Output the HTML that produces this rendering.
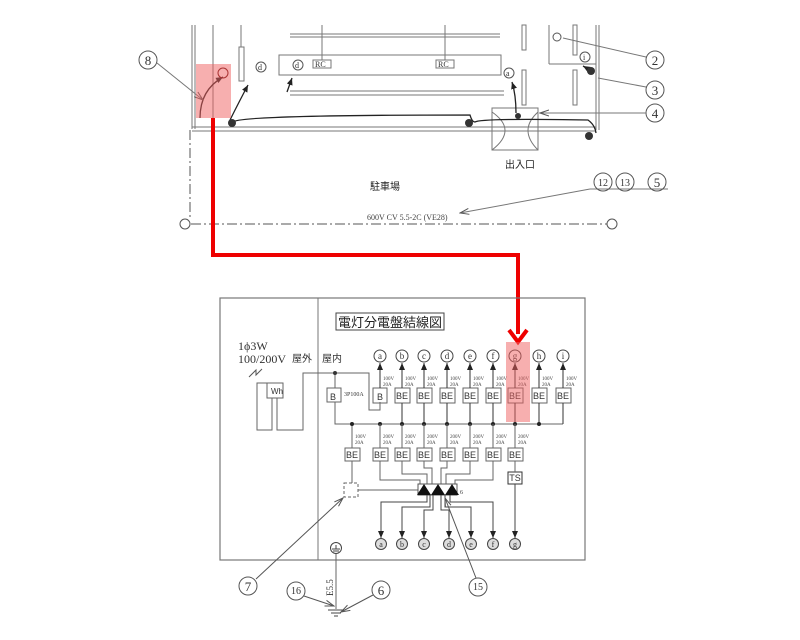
<!DOCTYPE html>
<html><head><meta charset="utf-8"><style>
html,body{margin:0;padding:0;background:#fff;}
svg{display:block;font-family:"Liberation Serif","Noto Serif CJK SC",serif;}
.s{font-family:"Liberation Sans","Noto Sans CJK JP",sans-serif;}
</style></head><body>
<svg width="800" height="640" viewBox="0 0 800 640" xmlns="http://www.w3.org/2000/svg">
<defs>
<marker id="ah" markerWidth="8" markerHeight="8" refX="7" refY="4" orient="auto" markerUnits="userSpaceOnUse"><path d="M0,1 L7,4 L0,7 Z" fill="#222"/></marker>
<marker id="ag" markerWidth="10" markerHeight="8" refX="9" refY="4" orient="auto" markerUnits="userSpaceOnUse"><path d="M0,1 L9,4 L0,7" fill="none" stroke="#555"/></marker>
</defs>
<!-- TOP PLAN -->
<g stroke="#777" fill="none" stroke-width="1">
<line x1="192" y1="25" x2="192" y2="129"/><line x1="195" y1="25" x2="195" y2="129"/>
<line x1="213" y1="25" x2="213" y2="118"/>
<rect x="239" y="47" width="5" height="34"/><line x1="241" y1="25" x2="241" y2="47"/>
<line x1="290" y1="34" x2="500" y2="34"/><line x1="290" y1="37" x2="500" y2="37"/>
<rect x="279" y="55" width="222" height="20"/>
<line x1="290" y1="91" x2="504" y2="91"/><line x1="290" y1="95" x2="504" y2="95"/>
<line x1="322" y1="25" x2="322" y2="60"/><line x1="445" y1="25" x2="445" y2="60"/>
<rect x="313" y="60" width="18" height="8"/><rect x="436" y="60" width="18" height="8"/>
<rect x="522" y="25" width="4" height="25"/><rect x="522" y="70" width="4" height="35"/>
<line x1="549" y1="25" x2="549" y2="64"/><line x1="549" y1="64" x2="596" y2="64"/>
<rect x="573" y="25" width="4" height="30"/><rect x="573" y="70" width="4" height="35"/>
<line x1="596" y1="25" x2="596" y2="130"/><line x1="599" y1="25" x2="599" y2="130"/>
<line x1="192" y1="127" x2="596" y2="127"/><line x1="192" y1="131" x2="596" y2="131"/>
<rect x="492" y="108" width="46" height="42"/>
<path d="M492,112 Q518,130 492,150 M538,112 Q518,130 538,150"/>
</g>
<g stroke="#555" fill="none" stroke-dasharray="10,3,2,3">
<line x1="190" y1="130" x2="190" y2="218"/>
<line x1="191" y1="224" x2="607" y2="224"/>
</g>
<circle cx="185" cy="224" r="5" fill="none" stroke="#555"/><circle cx="612" cy="224" r="5" fill="none" stroke="#555"/>
<g stroke="#222" fill="none" stroke-width="1.3">
<path d="M230,120 Q240,100 248,85" marker-end="url(#ah)"/>
<path d="M200,118 Q200,90 223,77" marker-end="url(#ah)"/>
<path d="M233,122 Q238,115 470,115 Q472,122 475,122 Q480,118 588,120 Q595,125 596,133"/>
<path d="M287,92 L292,78" marker-end="url(#ah)"/>
<path d="M516,113 Q516,95 512,82" marker-end="url(#ah)"/>
<path d="M590,70 L583,66" marker-end="url(#ah)"/>
</g>
<g fill="#333"><circle cx="232" cy="123" r="4"/><circle cx="469" cy="123" r="4"/><circle cx="589" cy="136" r="4"/><circle cx="518" cy="116" r="3"/><circle cx="591" cy="71" r="4"/></g>
<g fill="none" stroke="#555"><circle cx="261" cy="67" r="5"/><circle cx="298" cy="65" r="5"/><circle cx="509" cy="73" r="5"/><circle cx="585" cy="57" r="5"/><circle cx="557" cy="37" r="4"/></g>
<g font-size="8" fill="#333"><text x="258" y="70">d</text><text x="295" y="68">d</text><text x="506" y="76">a</text><text x="583" y="60">i</text><text x="315" y="67">RC</text><text x="438" y="67">RC</text></g>
<text x="505" y="168" font-size="10" class="s" fill="#222">出入口</text>
<text x="370" y="190" font-size="10" class="s" fill="#222">駐車場</text>
<text x="367" y="220" font-size="8" fill="#444">600V CV 5.5-2C (VE28)</text>
<line x1="590" y1="189" x2="460" y2="213" stroke="#777" marker-end="url(#ag)"/>
<line x1="590" y1="189" x2="668" y2="189" stroke="#777"/>
<g fill="none" stroke="#555"><circle cx="148" cy="60" r="9"/><circle cx="655" cy="60" r="9"/><circle cx="655" cy="90" r="9"/><circle cx="655" cy="113" r="9"/><circle cx="603" cy="182" r="9"/><circle cx="625" cy="182" r="9"/><circle cx="657" cy="182" r="9"/></g>
<g font-size="13" fill="#333" text-anchor="middle"><text x="148" y="65">8</text><text x="655" y="65">2</text><text x="655" y="95">3</text><text x="655" y="118">4</text><text x="603" y="186" font-size="10">12</text><text x="625" y="186" font-size="10">13</text><text x="657" y="187">5</text></g>
<g stroke="#777" fill="none"><line x1="157" y1="63" x2="203" y2="100" marker-end="url(#ag)"/><line x1="646" y1="57" x2="563" y2="38"/><line x1="646" y1="87" x2="598" y2="78"/><line x1="646" y1="113" x2="540" y2="113" marker-end="url(#ag)"/></g>
<rect x="196" y="64" width="35" height="54" fill="#f06060" opacity="0.5"/>
<circle cx="223" cy="73" r="5" fill="none" stroke="#a33"/>
<!-- red route -->
<path d="M213,118 V255 H518 V334" fill="none" stroke="#e00" stroke-width="4"/>
<path d="M509,330 L518,342 L527,330" fill="none" stroke="#e00" stroke-width="4"/>
<!-- PANEL -->
<rect x="220" y="298" width="365" height="262" fill="none" stroke="#777" stroke-width="1.2"/>
<line x1="318" y1="298" x2="318" y2="560" stroke="#777"/>
<rect x="336" y="313" width="108" height="17" fill="none" stroke="#444"/>
<text x="390" y="327" font-size="13" class="s" text-anchor="middle" fill="#222">電灯分電盤結線図</text>
<text x="238" y="350" font-size="12" fill="#333">1ϕ3W</text>
<text x="238" y="363" font-size="12" fill="#333">100/200V</text>
<text x="292" y="362" font-size="10" class="s" fill="#333">屋外</text>
<text x="322" y="362" font-size="10" class="s" fill="#333">屋内</text>
<path d="M249,377 L256,370 L256,375 L262,369" fill="none" stroke="#555"/>
<g fill="none" stroke="#666">
<rect x="267" y="383" width="16" height="15"/>
<path d="M267,383 H257 V430 H272 V398 M277,398 V430 H303 V373 H369 V410 H380 V402"/>
<rect x="327" y="388" width="14" height="14"/>
<path d="M335,373 V388 M335,402 V424 H563"/>
<rect x="344" y="483" width="14" height="14" stroke-dasharray="3,2"/>
<path d="M352,424 V448 M352,461 V483 M358,490 H418"/>
</g>
<text x="330" y="400" font-size="9" class="s" fill="#333">B</text>
<text x="344" y="396" font-size="6" fill="#333">3P100A</text>
<text x="271" y="394" font-size="8" class="s" fill="#333">Wh</text>
<circle cx="335" cy="373" r="2" fill="#333"/>
<!-- top row -->
<g id="cols" fill="none" stroke="#666">
<rect x="373" y="388" width="14" height="15"/>
<rect x="395" y="388" width="15" height="15"/><rect x="417" y="388" width="15" height="15"/><rect x="440" y="388" width="15" height="15"/><rect x="463" y="388" width="15" height="15"/><rect x="486" y="388" width="15" height="15"/><rect x="508" y="388" width="15" height="15"/><rect x="532" y="388" width="15" height="15"/><rect x="556" y="388" width="15" height="15"/>
</g>
<g stroke="#333" fill="none">
<line x1="380" y1="388" x2="380" y2="363" marker-end="url(#ah)"/><line x1="402" y1="388" x2="402" y2="363" marker-end="url(#ah)"/><line x1="424" y1="388" x2="424" y2="363" marker-end="url(#ah)"/><line x1="447" y1="388" x2="447" y2="363" marker-end="url(#ah)"/><line x1="470" y1="388" x2="470" y2="363" marker-end="url(#ah)"/><line x1="493" y1="388" x2="493" y2="363" marker-end="url(#ah)"/><line x1="515" y1="388" x2="515" y2="363" marker-end="url(#ah)"/><line x1="539" y1="388" x2="539" y2="363" marker-end="url(#ah)"/><line x1="563" y1="388" x2="563" y2="363" marker-end="url(#ah)"/>
<path d="M402,403 V424 M424,403 V424 M447,403 V424 M470,403 V424 M493,403 V424 M515,403 V424 M539,403 V424 M563,403 V424"/>
</g>
<g fill="none" stroke="#444"><circle cx="380" cy="356" r="6"/><circle cx="402" cy="356" r="6"/><circle cx="424" cy="356" r="6"/><circle cx="447" cy="356" r="6"/><circle cx="470" cy="356" r="6"/><circle cx="493" cy="356" r="6"/><circle cx="515" cy="356" r="6"/><circle cx="539" cy="356" r="6"/><circle cx="563" cy="356" r="6"/></g>
<g font-size="9" fill="#333" text-anchor="middle"><text x="380" y="359">a</text><text x="402" y="359">b</text><text x="424" y="359">c</text><text x="447" y="359">d</text><text x="470" y="359">e</text><text x="493" y="359">f</text><text x="515" y="359">g</text><text x="539" y="359">h</text><text x="563" y="359">i</text></g>
<g font-size="9" class="s" fill="#333" text-anchor="middle"><text x="380" y="400">B</text><text x="402" y="399">BE</text><text x="424" y="399">BE</text><text x="447" y="399">BE</text><text x="470" y="399">BE</text><text x="493" y="399">BE</text><text x="515" y="399">BE</text><text x="539" y="399">BE</text><text x="563" y="399">BE</text></g>
<g font-size="5" fill="#444"><text x="383" y="380">100V</text><text x="383" y="386">20A</text><text x="405" y="380">100V</text><text x="405" y="386">20A</text><text x="427" y="380">100V</text><text x="427" y="386">20A</text><text x="450" y="380">100V</text><text x="450" y="386">20A</text><text x="473" y="380">100V</text><text x="473" y="386">20A</text><text x="496" y="380">100V</text><text x="496" y="386">20A</text><text x="518" y="380">100V</text><text x="518" y="386">20A</text><text x="542" y="380">100V</text><text x="542" y="386">20A</text><text x="566" y="380">100V</text><text x="566" y="386">20A</text></g>
<g fill="#222"><circle cx="352" cy="424" r="2"/><circle cx="380" cy="424" r="2"/><circle cx="402" cy="424" r="2"/><circle cx="424" cy="424" r="2"/><circle cx="447" cy="424" r="2"/><circle cx="470" cy="424" r="2"/><circle cx="493" cy="424" r="2"/><circle cx="515" cy="424" r="2"/><circle cx="539" cy="424" r="2"/></g>
<rect x="506" y="342" width="24" height="80" fill="#f06060" opacity="0.5"/>
<!-- second row -->
<g fill="none" stroke="#666">
<rect x="345" y="448" width="15" height="13"/><rect x="373" y="448" width="15" height="13"/><rect x="395" y="448" width="15" height="13"/><rect x="417" y="448" width="15" height="13"/><rect x="440" y="448" width="15" height="13"/><rect x="463" y="448" width="15" height="13"/><rect x="486" y="448" width="15" height="13"/><rect x="508" y="448" width="15" height="13"/>
<rect x="508" y="472" width="14" height="12" stroke="#333"/>
<path d="M380,424 V448 M402,424 V448 M424,424 V448 M447,424 V448 M470,424 V448 M493,424 V448 M515,424 V448"/>
<path d="M380,461 V480 H420 V484 M402,461 V474 H427 V484 M424,461 V468 H432 V484 M447,461 V468 H441 V484 M470,461 V474 H446 V484 M493,461 V480 H455 V484 M515,461 V472"/>
</g>
<g font-size="9" class="s" fill="#333" text-anchor="middle"><text x="352" y="458">BE</text><text x="380" y="458">BE</text><text x="402" y="458">BE</text><text x="424" y="458">BE</text><text x="447" y="458">BE</text><text x="470" y="458">BE</text><text x="493" y="458">BE</text><text x="515" y="458">BE</text><text x="515" y="481">TS</text></g>
<g font-size="5" fill="#444"><text x="355" y="438">100V</text><text x="355" y="444">20A</text><text x="383" y="438">200V</text><text x="383" y="444">20A</text><text x="405" y="438">200V</text><text x="405" y="444">20A</text><text x="427" y="438">200V</text><text x="427" y="444">20A</text><text x="450" y="438">200V</text><text x="450" y="444">20A</text><text x="473" y="438">200V</text><text x="473" y="444">20A</text><text x="496" y="438">200V</text><text x="496" y="444">20A</text><text x="518" y="438">200V</text><text x="518" y="444">20A</text></g>
<rect x="418" y="484" width="39" height="11" fill="none" stroke="#555"/>
<g fill="#111"><path d="M417,495 L424,484 L431,495Z"/><path d="M431,495 L438,484 L445,495Z"/><path d="M445,495 L452,484 L459,495Z"/></g>
<text x="460" y="494" font-size="6" fill="#333">6</text>
<g stroke="#444" fill="none">
<path d="M427,495 V502 H381 V538" marker-end="url(#ah)"/>
<path d="M430,495 V507 H402 V538" marker-end="url(#ah)"/>
<path d="M433,495 V510 H424 V538" marker-end="url(#ah)"/>
<path d="M441,495 V510 H449 V538" marker-end="url(#ah)"/>
<path d="M445,495 V507 H471 V538" marker-end="url(#ah)"/>
<path d="M450,495 V502 H493 V538" marker-end="url(#ah)"/>
<path d="M515,484 V538" marker-end="url(#ah)"/>
</g>
<g fill="#ddd" stroke="#444"><circle cx="381" cy="544" r="5.5"/><circle cx="402" cy="544" r="5.5"/><circle cx="424" cy="544" r="5.5"/><circle cx="449" cy="544" r="5.5"/><circle cx="471" cy="544" r="5.5"/><circle cx="493" cy="544" r="5.5"/><circle cx="515" cy="544" r="5.5"/></g>
<g font-size="8" fill="#333" text-anchor="middle"><text x="381" y="547">a</text><text x="402" y="547">b</text><text x="424" y="547">c</text><text x="449" y="547">d</text><text x="471" y="547">e</text><text x="493" y="547">f</text><text x="515" y="547">g</text></g>
<!-- ground -->
<circle cx="336" cy="548" r="5.5" fill="none" stroke="#444"/>
<path d="M332,549 H340 M336,545 V549 M333,551 H339" stroke="#444"/>
<line x1="336" y1="554" x2="336" y2="609" stroke="#666"/>
<path d="M328,610 H344 M331,613 H341 M334,616 H338" stroke="#444"/>
<text x="0" y="0" font-size="9" fill="#333" transform="translate(333,596) rotate(-90)">E5.5</text>
<!-- callouts -->
<g fill="none" stroke="#555"><circle cx="248" cy="586" r="9"/><circle cx="296" cy="591" r="9"/><circle cx="381" cy="590" r="9"/><circle cx="478" cy="587" r="9"/></g>
<g font-size="13" fill="#333" text-anchor="middle"><text x="248" y="591">7</text><text x="296" y="594" font-size="10">16</text><text x="381" y="595">6</text><text x="478" y="590" font-size="10">15</text></g>
<g stroke="#555" fill="none">
<line x1="256" y1="579" x2="343" y2="498" marker-end="url(#ag)"/>
<line x1="304" y1="596" x2="334" y2="606" marker-end="url(#ag)"/>
<line x1="373" y1="595" x2="341" y2="612" marker-end="url(#ag)"/>
<line x1="476" y1="578" x2="445" y2="498" marker-end="url(#ag)"/>
</g>
</svg>
</body></html>
